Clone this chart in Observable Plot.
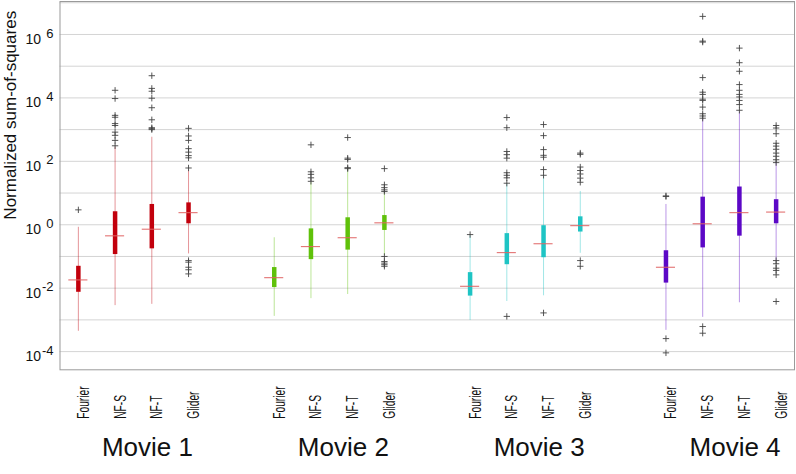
<!DOCTYPE html>
<html><head><meta charset="utf-8">
<script src="https://cdn.jsdelivr.net/npm/d3@7"></script>
<script src="https://cdn.jsdelivr.net/npm/@observablehq/plot@0.6"></script>
<style>
body{margin:0;background:#fff;}
#chart svg{display:block;}
</style></head><body><div id="chart"></div>
<script>
const movies = ["Movie 1", "Movie 2", "Movie 3", "Movie 4"];
const methods = ["Fourier", "NF-S", "NF-T", "Glider"];
const movieColors = ["#c2000c", "#5fc10a", "#1ec4c4", "#5c08c6"];
const yTickExponents = [6, 4, 2, 0, -2, -4];
const gridExponents = [-4, -3, -2, -1, 0, 1, 2, 3, 4, 5, 6, 7];

// box statistics as log10 of the value, movie-major, method-minor (16 boxes)
const whiskerHiLog = [-0.08, 2.45, 2.76, 1.71,  -0.41, 1.34, 1.79, 1.03,  -0.34, 1.29, 1.56, 1.05,  0.64, 3.34, 3.55, 1.98];
const q3Log        = [-1.31, 0.41, 0.64, 0.69,  -1.35, -0.13, 0.22, 0.29,  -1.51, -0.28, -0.03, 0.25,  -0.82, 0.87, 1.19, 0.79];
const medianLog    = [-1.74, -0.35, -0.14, 0.38,  -1.67, -0.69, -0.41, 0.06,  -1.94, -0.88, -0.60, -0.03,  -1.34, 0.03, 0.38, 0.40];
const q1Log        = [-2.13, -0.94, -0.76, 0.03,  -1.98, -1.10, -0.80, -0.18,  -2.25, -1.26, -1.04, -0.23,  -1.84, -0.73, -0.36, 0.03];
const whiskerLoLog = [-3.36, -2.55, -2.51, -0.92,  -2.89, -2.33, -2.20, -0.97,  -3.02, -2.42, -2.24, -0.90,  -3.33, -2.92, -2.46, -1.15];

// outliers (log10 of value), one list per box in the same order
const outliersLog = [
  [0.47],
  [4.24, 3.98, 3.45, 3.39, 3.19, 3.13, 2.92, 2.82, 2.66, 2.49],
  [4.70, 4.30, 4.21, 3.99, 3.69, 3.31, 3.06, 3.03, 3.00],
  [3.04, 2.80, 2.66, 2.40, 2.29, 2.18, 2.11, 1.79, -1.13, -1.18, -1.34, -1.42, -1.55],
  [],
  [2.52, 1.67, 1.59, 1.48, 1.37],
  [2.75, 2.10, 2.06, 1.80, 1.77],
  [1.77, 1.26, 1.17, 1.10, 1.05, -1.00, -1.16, -1.21, -1.26, -1.31],
  [-0.31],
  [3.38, 3.06, 2.31, 2.21, 2.10, 1.64, 1.56, 1.48, 1.31, -2.89],
  [3.16, 2.81, 2.37, 2.19, 2.13, 1.74, 1.56, -2.78],
  [2.26, 2.22, 1.82, 1.71, 1.60, 1.47, 1.34, -1.13, -1.31],
  [0.89, 0.91, -3.59, -4.04],
  [6.57, 5.79, 5.76, 4.64, 4.18, 4.11, 3.96, 3.92, 3.71, 3.50, 3.43, 3.36, -3.21, -3.42],
  [5.57, 5.11, 4.84, 4.42, 4.24, 4.11, 4.03, 3.92, 3.79, 3.61],
  [3.13, 3.05, 2.87, 2.57, 2.48, 2.38, 2.26, 2.16, 2.05, 1.96, -1.13, -1.23, -1.37, -1.44, -1.58, -2.42]
];

const groupStep = 16 / 3; // slot spacing between movie groups
const boxes = [];
movies.forEach((movie, g) => methods.forEach((method, k) => {
  const i = g * 4 + k;
  boxes.push({
    movie, method, pos: g * groupStep + k, color: movieColors[g],
    lo: 10 ** whiskerLoLog[i], hi: 10 ** whiskerHiLog[i],
    q1: 10 ** q1Log[i], q3: 10 ** q3Log[i], median: 10 ** medianLog[i]
  });
}));
const outliers = boxes.flatMap((b, i) => outliersLog[i].map(e => ({pos: b.pos, value: 10 ** e})));

const chart = Plot.plot({
  width: 796, height: 474,
  marginLeft: 59.5, marginRight: 2, marginTop: 1, marginBottom: 104.7,
  x: {type: "linear", domain: [-0.5, 19.5], axis: null},
  y: {type: "log", domain: [10 ** -4.574, 10 ** 7.04], axis: null},
  style: {fontFamily: "'Liberation Sans', Arial, Helvetica, sans-serif", background: "white", overflow: "visible", color: "#111"},
  marks: [
    Plot.ruleY(gridExponents, {y: e => 10 ** e, stroke: "#d4d4d4", strokeWidth: 1}),
    Plot.frame({stroke: "#9a9a9a"}),
    Plot.ruleX(boxes, {x: "pos", y1: "lo", y2: "hi", stroke: "color", strokeOpacity: 0.42, strokeWidth: 1}),
    Plot.ruleX(boxes, {x: "pos", y1: "q1", y2: "q3", stroke: "color", strokeWidth: 4.5}),
    Plot.ruleY(boxes, {y: "median", x1: d => d.pos - 0.26, x2: d => d.pos + 0.26, stroke: "#e06464", strokeWidth: 1}),
    Plot.dot(outliers, {x: "pos", y: "value", symbol: "plus", r: 2.2, stroke: "#444", strokeWidth: 0.9}),
    Plot.text(yTickExponents, {y: e => 10 ** e, text: () => "10", frameAnchor: "left", textAnchor: "end", dx: -19, dy: 5, fontSize: 14}),
    Plot.text(yTickExponents, {y: e => 10 ** e, text: e => String(e), frameAnchor: "left", textAnchor: "end", dx: -6.5, dy: -1, fontSize: 13}),
    Plot.text(["Normalized sum-of-squares"], {frameAnchor: "left", rotate: -90, dx: -49.5, dy: 34, fontSize: 17}),
    Plot.text(boxes, {x: "pos", text: "method", frameAnchor: "bottom", rotate: -90, textAnchor: "start", dx: 10.5, dy: 49, fontSize: 16.5}),
    Plot.text(movies, {x: (d, i) => i * groupStep + 1.5, text: d => d, frameAnchor: "bottom", lineAnchor: "bottom", dx: 14, dy: 85.7, fontSize: 26})
  ]
});
document.getElementById("chart").appendChild(chart);
// condense the rotated method labels along their reading direction
d3.select(chart).selectAll("text")
  .filter(function () { return methods.includes(this.textContent); })
  .attr("transform", function () { return (this.getAttribute("transform") || "") + " scale(0.62,1)"; });
</script>
</body></html>
